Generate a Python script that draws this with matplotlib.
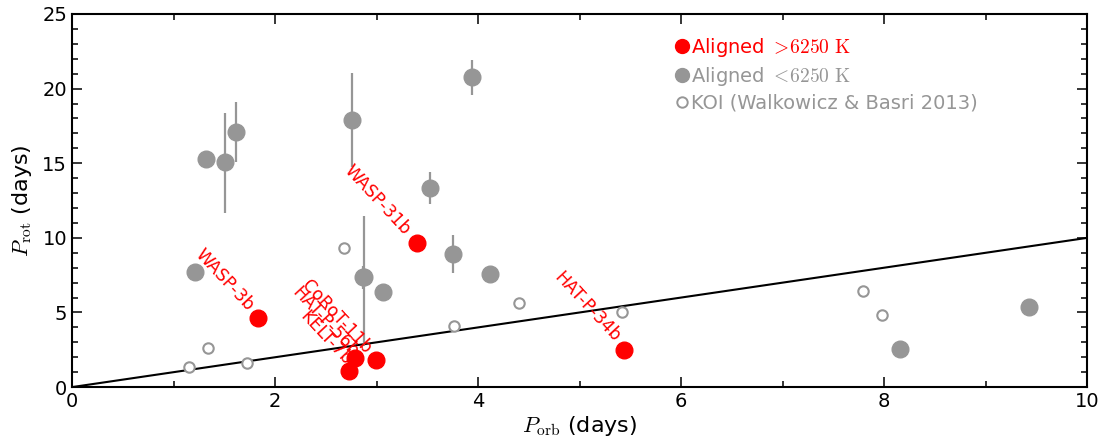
import matplotlib
matplotlib.use("Agg")
import matplotlib.pyplot as plt
import numpy as np
from matplotlib.ticker import MultipleLocator
from matplotlib.lines import Line2D

plt.rcParams['mathtext.fontset'] = 'cm'
plt.rcParams['font.family'] = 'DejaVu Sans'

# Aligned, Teff > 6250 K
hot_names = ["WASP-3b", "CoRoT-11b", "HAT-P-56b", "KELT-7b", "WASP-31b", "HAT-P-34b"]
hot_porb = [1.83, 2.99, 2.79, 2.73, 3.40, 5.44]
hot_prot = [4.62, 1.81, 1.94, 1.07, 9.65, 2.48]
hot_lab_x = [1.50, 2.61, 2.49, 2.50, 3.01, 5.07]
hot_lab_y = [7.17, 4.69, 4.36, 3.28, 12.53, 5.36]

# Aligned, Teff < 6250 K
cool_porb = [1.21, 1.32, 1.51, 1.62, 2.76, 2.88, 2.87, 3.06, 3.53, 3.75, 3.94, 4.12, 8.16, 9.43]
cool_prot = [7.71, 15.28, 15.08, 17.09, 17.90, 7.37, 7.37, 6.37, 13.35, 8.90, 20.76, 7.57, 2.55, 5.36]
cool_err_lo = [0, 0, 3.40, 2.00, 3.13, 4.62, 0.77, 0, 1.05, 1.28, 1.19, 0, 0, 0]
cool_err_hi = [0, 0, 3.30, 2.03, 3.17, 4.11, 0.76, 0, 1.08, 1.29, 1.14, 0, 0, 0]

# KOI (Walkowicz & Basri 2013)
koi_porb = [1.15, 1.34, 1.72, 2.68, 3.76, 4.40, 5.42, 7.79, 7.98]
koi_prot = [1.36, 2.59, 1.63, 9.29, 4.09, 5.63, 5.05, 6.46, 4.83]

line_x = [0, 10]
line_y = [0, 10]

RED = '#ff0000'
GRAY = '#969696'

fig = plt.figure(figsize=(11.06, 4.47), dpi=100)
ax = fig.add_axes([0.0651, 0.134, 0.9179, 0.8347])

ax.plot(line_x, line_y, color='black', lw=1.5, zorder=2)

ax.errorbar(cool_porb, cool_prot, yerr=[cool_err_lo, cool_err_hi], fmt='o',
            color=GRAY, ms=12, elinewidth=1.6, capsize=0, zorder=3)
ax.plot(koi_porb, koi_prot, 'o', mfc='white', mec=GRAY, mew=1.5, ms=7.5, zorder=3)
ax.plot(hot_porb, hot_prot, 'o', color=RED, ms=12, zorder=4)

for n, lx, ly in zip(hot_names, hot_lab_x, hot_lab_y):
    ax.text(lx, ly, n, color=RED, fontsize=12.5, rotation=-47,
            ha='center', va='center', rotation_mode='anchor', zorder=5)

ax.set_xlim(0, 10)
ax.set_ylim(0, 25)
ax.xaxis.set_major_locator(MultipleLocator(2))
ax.xaxis.set_minor_locator(MultipleLocator(1))
ax.yaxis.set_major_locator(MultipleLocator(5))
ax.yaxis.set_minor_locator(MultipleLocator(1))
ax.tick_params(which='both', direction='in', top=True, right=True, labelsize=14, width=1.1)
ax.tick_params(which='major', length=7)
ax.tick_params(which='minor', length=4)
for s in ax.spines.values():
    s.set_linewidth(1.5)

ax.set_xlabel(r'$P_{\rm orb}$ (days)', fontsize=16, labelpad=2)
ax.set_ylabel(r'$P_{\rm rot}$ (days)', fontsize=16, labelpad=6)

handles = [
    Line2D([], [], ls='none', marker='o', color=RED, ms=10),
    Line2D([], [], ls='none', marker='o', color=GRAY, ms=10),
    Line2D([], [], ls='none', marker='o', mfc='white', mec=GRAY, mew=1.4, ms=7.5),
]
labels = [r'Aligned $>\!6250\ \rm K$', r'Aligned $<\!6250\ \rm K$', 'KOI (Walkowicz & Basri 2013)']
leg = ax.legend(handles, labels, loc='upper left', bbox_to_anchor=(0.582, 0.978),
                frameon=False, fontsize=14, handlelength=0.6, handletextpad=0.15,
                labelspacing=0.3, borderaxespad=0.3)
for t, c in zip(leg.get_texts(), [RED, GRAY, GRAY]):
    t.set_color(c)

fig.savefig('out.png', dpi=100)
